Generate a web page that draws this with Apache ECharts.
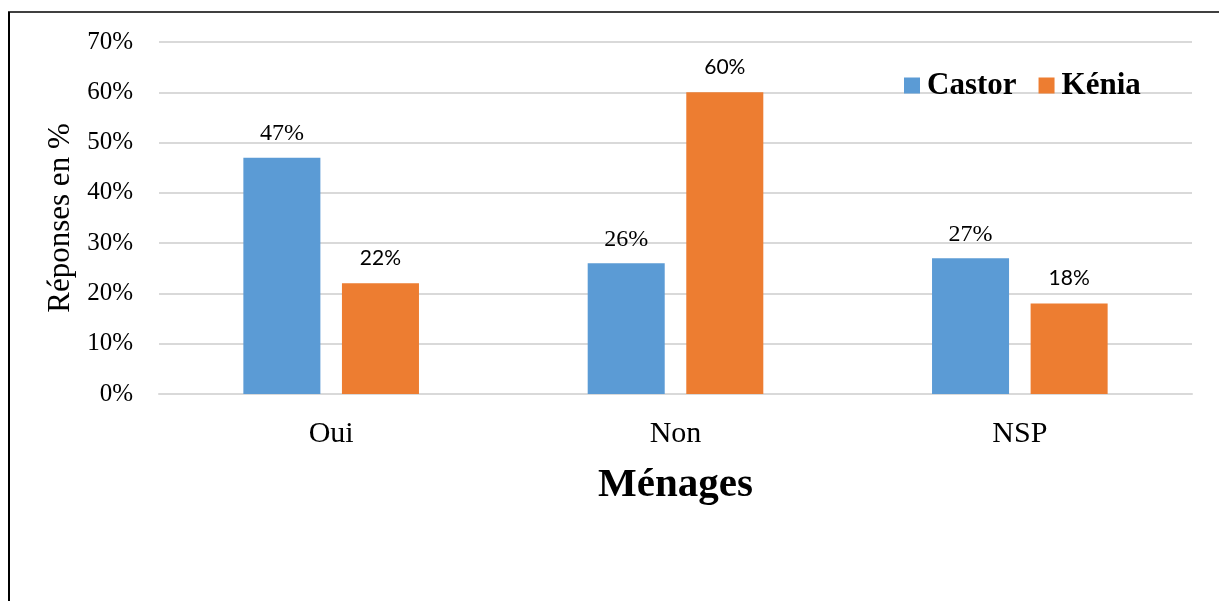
<!DOCTYPE html>
<html>
<head>
<meta charset="utf-8">
<script src="https://cdn.jsdelivr.net/npm/echarts@6/dist/echarts.min.js"></script>
<style>
  html, body { margin: 0; padding: 0; background: #fff; }
  #chart { width: 1219px; height: 601px; }
</style>
</head>
<body>
<div id="chart"></div>
<script>
// Survey answers by household group
const categories = ['Oui', 'Non', 'NSP'];
const castor = [47, 26, 27];
const kenia = [22, 60, 18];
const yTicks = [0, 10, 20, 30, 40, 50, 60, 70];

const serif = 'Liberation Serif, serif';
const sans = 'Lato, sans-serif';

const chart = echarts.init(document.getElementById('chart'), null, { renderer: 'canvas' });

chart.setOption({
  backgroundColor: '#ffffff',
  animation: false,
  textStyle: { fontFamily: serif },
  graphic: [
    { type: 'line', shape: { x1: 8, y1: 12, x2: 1219, y2: 12 }, style: { stroke: '#000', lineWidth: 1.5 } },
    { type: 'line', shape: { x1: 9, y1: 12, x2: 9, y2: 601 }, style: { stroke: '#000', lineWidth: 2 } }
  ],
  legend: {
    left: 899,
    top: 65,
    itemWidth: 16,
    itemHeight: 16,
    itemGap: 22,
    icon: 'rect',
    textStyle: { fontFamily: serif, fontWeight: 'bold', fontSize: 31, color: '#000', padding: [0, 0, 0, 2] },
    data: ['Castor', 'Kénia']
  },
  grid: { left: 159, right: 27, top: 42, bottom: 207, containLabel: false },
  xAxis: {
    type: 'category',
    data: categories,
    name: 'Ménages',
    nameLocation: 'middle',
    nameGap: 71,
    nameTextStyle: { fontFamily: serif, fontWeight: 'bold', fontSize: 41, color: '#000' },
    axisLine: { lineStyle: { color: '#d9d9d9', width: 2 } },
    axisTick: { show: false },
    axisLabel: { fontFamily: serif, fontSize: 30, color: '#000', margin: 25 }
  },
  yAxis: {
    type: 'value',
    min: 0,
    max: 70,
    interval: 10,
    name: 'Réponses en %',
    nameLocation: 'middle',
    nameGap: 74,
    nameTextStyle: { fontFamily: serif, fontSize: 31, color: '#000' },
    axisLine: { show: false },
    axisTick: { show: false },
    splitLine: { lineStyle: { color: '#d9d9d9', width: 2 } },
    axisLabel: {
      fontFamily: serif, fontSize: 25, color: '#000', margin: 26,
      formatter: v => (yTicks.includes(v) ? v + '%' : '')
    }
  },
  series: [
    {
      name: 'Castor',
      type: 'bar',
      data: castor,
      barCategoryGap: '49%',
      barGap: '28%',
      itemStyle: { color: '#5b9bd5' },
      label: {
        show: true, position: 'top', distance: 12,
        formatter: '{c}%',
        fontFamily: serif, fontSize: 24, color: '#000'
      }
    },
    {
      name: 'Kénia',
      type: 'bar',
      data: kenia,
      barCategoryGap: '49%',
      barGap: '28%',
      itemStyle: { color: '#ed7d31' },
      label: {
        show: true, position: 'top', distance: 15,
        formatter: '{c}%',
        fontFamily: sans, fontSize: 21, color: '#000'
      }
    }
  ]
});
</script>
</body>
</html>
